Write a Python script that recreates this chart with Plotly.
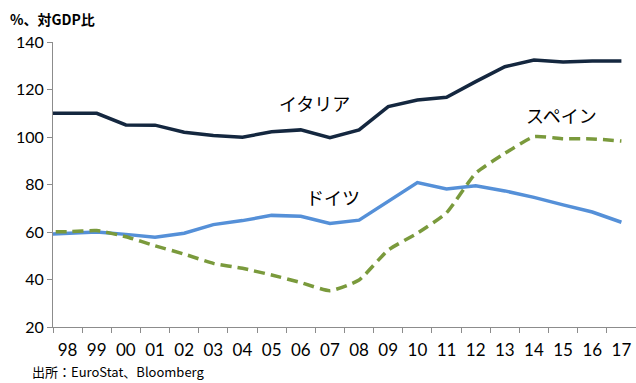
import plotly.graph_objects as go

# Government debt, % of GDP (leading 1997 point carries the line to the axis edge)
years = ["97", "98", "99", "00", "01", "02", "03", "04", "05", "06", "07",
         "08", "09", "10", "11", "12", "13", "14", "15", "16", "17"]
italy = [110.0, 110.0, 110.0, 105.1, 105.0, 102.0, 100.6, 99.9, 102.2, 103.0, 99.7,
         103.0, 112.8, 115.6, 116.7, 123.3, 129.6, 132.4, 131.6, 132.0, 132.0]
germany = [58.9, 59.5, 60.0, 59.0, 57.8, 59.5, 63.1, 64.8, 67.0, 66.6, 63.6,
           65.0, 72.8, 80.8, 78.1, 79.5, 77.3, 74.6, 71.4, 68.4, 64.1]
spain = [60.2, 60.1, 60.6, 58.0, 54.2, 50.7, 46.8, 44.7, 41.9, 38.7, 35.3,
         39.8, 52.4, 59.5, 68.1, 84.7, 93.1, 100.1, 99.3, 99.2, 98.3]

y_ticks = [20, 40, 60, 80, 100, 120, 140]

LATIN = "Lato, 'Noto Sans CJK JP', sans-serif"
JP = "'Noto Sans CJK JP', sans-serif"
AXIS_GREY = "#8c8c8c"

fig = go.Figure()
fig.add_trace(go.Scatter(x=years, y=italy, mode="lines", name="イタリア",
                         line=dict(color="#14273f", width=3.5)))
fig.add_trace(go.Scatter(x=years, y=germany, mode="lines", name="ドイツ",
                         line=dict(color="#5590d8", width=3.5)))
fig.add_trace(go.Scatter(x=years, y=spain, mode="lines", name="スペイン",
                         line=dict(color="#7a9a3c", width=3.5, dash="11px,6px",
                                   shape="spline", smoothing=0.5)))

labels = [("イタリア", 314, 103), ("ドイツ", 333, 197), ("スペイン", 561, 115)]
for text, px, py in labels:
    fig.add_annotation(text=text, xref="paper", yref="paper",
                       x=(px - 53) / (636 - 53), y=(327 - py) / (327 - 42),
                       xanchor="center", yanchor="middle", showarrow=False,
                       font=dict(family=JP, size=18, color="#000000"))

fig.add_annotation(text="<b>%、対GDP比</b>", xref="paper", yref="paper",
                   x=-(53 - 8) / (636 - 53), y=(327 - 19) / (327 - 42),
                   xanchor="left", yanchor="middle", showarrow=False,
                   font=dict(family=JP, size=14, color="#000000"))
fig.add_annotation(text="出所：EuroStat、Bloomberg", xref="paper", yref="paper",
                   x=-(53 - 30) / (636 - 53), y=(327 - 383) / (327 - 42),
                   xanchor="left", yanchor="bottom", showarrow=False,
                   font=dict(family=JP, size=13, color="#000000"))

fig.update_xaxes(type="category", range=[0.5, len(years) - 0.5],
                 tickson="boundaries", ticks="outside", ticklen=5,
                 tickcolor=AXIS_GREY, showline=True, linecolor=AXIS_GREY,
                 linewidth=1, showgrid=False, zeroline=False,
                 tickangle=0, ticklabelstandoff=8,
                 tickfont=dict(family=LATIN, size=17, color="#000000"))
fig.update_yaxes(range=[20, 140], tickvals=y_ticks, ticks="outside", ticklen=5,
                 tickcolor=AXIS_GREY, showline=True, linecolor=AXIS_GREY,
                 linewidth=1, showgrid=False, zeroline=False,
                 tickfont=dict(family=LATIN, size=16, color="#000000"))

fig.update_layout(width=636, height=383, showlegend=False,
                  margin=dict(l=53, r=0, t=42, b=56),
                  paper_bgcolor="white", plot_bgcolor="white")

fig.write_html("out.html")
